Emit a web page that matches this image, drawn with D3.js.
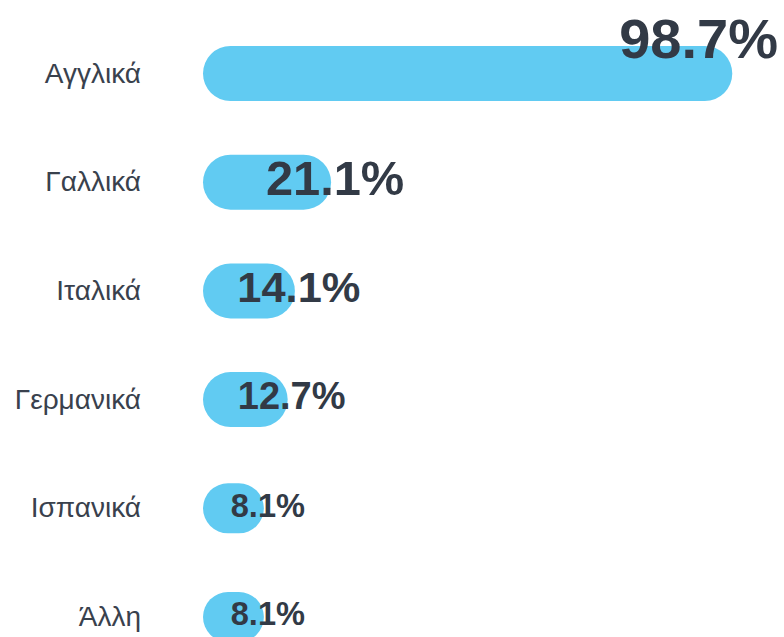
<!DOCTYPE html>
<html>
<head>
<meta charset="utf-8">
<script src="https://cdn.jsdelivr.net/npm/d3@7/dist/d3.min.js"></script>
<style>
  html, body { margin: 0; padding: 0; background: #ffffff; }
  svg { display: block; }
</style>
</head>
<body>
<svg id="chart" width="784" height="637"></svg>
<script>
// Data
const categories = ["Αγγλικά", "Γαλλικά", "Ιταλικά", "Γερμανικά", "Ισπανικά", "Άλλη"];
const values = [98.7, 21.1, 14.1, 12.7, 8.1, 8.1];
const valueLabels = ["98.7%", "21.1%", "14.1%", "12.7%", "8.1%", "8.1%"];

const W = 784, H = 637;
const barColor = "#61cbf2";
const textColor = "#323a46";

const svg = d3.select("#chart");

const x = d3.scaleLinear().domain([0, 100]).range([222, 739]);
const y = d3.scalePoint().domain(categories).range([73.5, 617]);
const barH = d3.scaleLinear().domain([3, 4]).range([55, 50]).clamp(true);
const fontSize = d3.scaleLinear().domain([0, 1, 4]).range([56, 48.8, 32.6]).clamp(true);
const capPad = 19;

const rows = categories.map((c, i) => ({ c, v: values[i], label: valueLabels[i], i }));

// Category labels
svg.append("g").selectAll("text").data(rows).join("text")
  .attr("x", 141)
  .attr("y", d => y(d.c) + 9)
  .attr("text-anchor", "end")
  .attr("font-family", "'Liberation Sans', Arial, Helvetica, sans-serif")
  .attr("font-size", 28)
  .attr("fill", "#39414d")
  .text(d => d.c);

// Bars
svg.append("g").selectAll("rect").data(rows).join("rect")
  .attr("x", x(0) - capPad)
  .attr("y", d => y(d.c) - barH(d.i) / 2)
  .attr("width", d => Math.max(x(d.v) - (x(0) - capPad), barH(d.i)))
  .attr("height", d => barH(d.i))
  .attr("rx", d => barH(d.i) / 2)
  .attr("ry", d => barH(d.i) / 2)
  .attr("fill", barColor);

// Value labels
const vl = svg.append("g").selectAll("text").data(rows).join("text")
  .attr("font-family", "'Liberation Sans', Arial, Helvetica, sans-serif")
  .attr("font-weight", "bold")
  .attr("font-size", d => fontSize(d.i))
  .attr("fill", textColor)
  .attr("text-anchor", "middle")
  .text(d => d.label);

vl.each(function(d) {
  const t = d3.select(this);
  const w = this.getComputedTextLength();
  let cx = x(d.v) + 4;
  let by = y(d.c) + 0.26 * fontSize(d.i);
  if (cx + w / 2 > W - 6) {
    cx = W - 6 - w / 2;
    by = y(d.c) - barH(d.i) / 2 + 12;
  }
  t.attr("x", cx).attr("y", by);
});
</script>
</body>
</html>
